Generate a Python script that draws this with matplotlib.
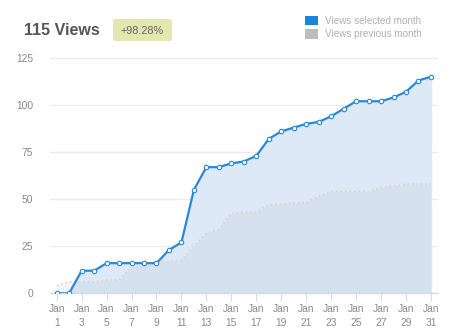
import numpy as np
import matplotlib
matplotlib.use('Agg')
import matplotlib.pyplot as plt
from matplotlib.patches import FancyBboxPatch, Rectangle

plt.rcParams['font.family'] = ['Liberation Sans', 'DejaVu Sans']

days = list(range(1, 32))
views_selected = [0, 0, 12, 12, 16, 16, 16, 16, 16, 23, 27, 55, 67, 67, 69, 70,
                  73, 82, 86, 88, 90, 91, 94, 98, 102, 102, 102, 104, 107, 113, 115]
views_previous = [4, 6, 6, 6, 7, 7, 14, 14.5, 17, 17, 17.5, 25, 32, 34, 42.5, 43,
                  43, 47, 47.3, 48, 48.2, 51.5, 54, 54, 54, 54, 56, 57, 58, 58, 58]
tick_days = list(range(1, 32, 2))
tick_labels = [f'Jan\n{d}' for d in tick_days]
y_ticks = [0, 25, 50, 75, 100, 125]

total_views = '115 Views'
change_text = '+98.28%'
legend_labels = ['Views selected month', 'Views previous month']

blue = '#2a88d6'
grid_col = '#ececec'
label_col = '#8a8a8a'

fig = plt.figure(figsize=(4.55, 3.32), dpi=100)
ax = fig.add_axes([0.1099, 0.1166, 0.852, 0.7145])

ax.fill_between(days, views_selected, color='#dde9f7', zorder=1)
ax.fill_between(days, views_previous, color='#a0a4aa', alpha=0.11, lw=0, zorder=2)
ax.plot(days, views_previous, color='#d8d6d0', lw=1.3, ls=(0, (1, 1.5)), zorder=3)
ax.plot(days, views_selected, color=blue, lw=1.6, zorder=4,
        marker='o', markersize=3.2, markerfacecolor='white',
        markeredgecolor=blue, markeredgewidth=0.8)

ax.set_xlim(0.463, 31.54)
ax.set_ylim(0, 126)
ax.set_yticks(y_ticks)
ax.set_xticks(tick_days)
ax.set_xticklabels(tick_labels, linespacing=1.45)
ax.grid(axis='y', color=grid_col, lw=1, zorder=0)
ax.set_axisbelow(True)
for s in ['top', 'right', 'left']:
    ax.spines[s].set_visible(False)
ax.spines['bottom'].set_color('#d0dcea')
ax.spines['bottom'].set_linewidth(1)
ax.tick_params(axis='y', length=0, pad=12, labelsize=7.4, labelcolor=label_col)
ax.tick_params(axis='x', length=6, width=0.8, color='#d0dcea', pad=2,
               labelsize=7.4, labelcolor=label_col)

# header
fig.text(24 / 455, 1 - 30.5 / 332, total_views, fontsize=11.5, fontweight='bold',
         color='#555555', va='center', ha='left')
badge = FancyBboxPatch((113 / 455, 1 - 41 / 332), 59 / 455, 22 / 332,
                       boxstyle='round,pad=0,rounding_size=0.006',
                       transform=fig.transFigure, facecolor='#e2e8b0',
                       edgecolor='none')
fig.patches.append(badge)
fig.text(142.5 / 455, 1 - 30.5 / 332, change_text, fontsize=7.8, color='#666666',
         va='center', ha='center')

legend_cols = ['#1a84d8', '#bdbdbd']
for i, (lab, col) in enumerate(zip(legend_labels, legend_cols)):
    y0 = 25.3 + i * 13.7
    fig.patches.append(Rectangle((305 / 455, 1 - y0 / 332), 13 / 455, 9.5 / 332,
                                 transform=fig.transFigure, facecolor=col,
                                 edgecolor='none'))
    fig.text(325 / 455, 1 - (y0 - 4.8) / 332, lab, fontsize=7.1, color='#b0b0b0',
             va='center', ha='left')

fig.savefig('out.png', dpi=100)
